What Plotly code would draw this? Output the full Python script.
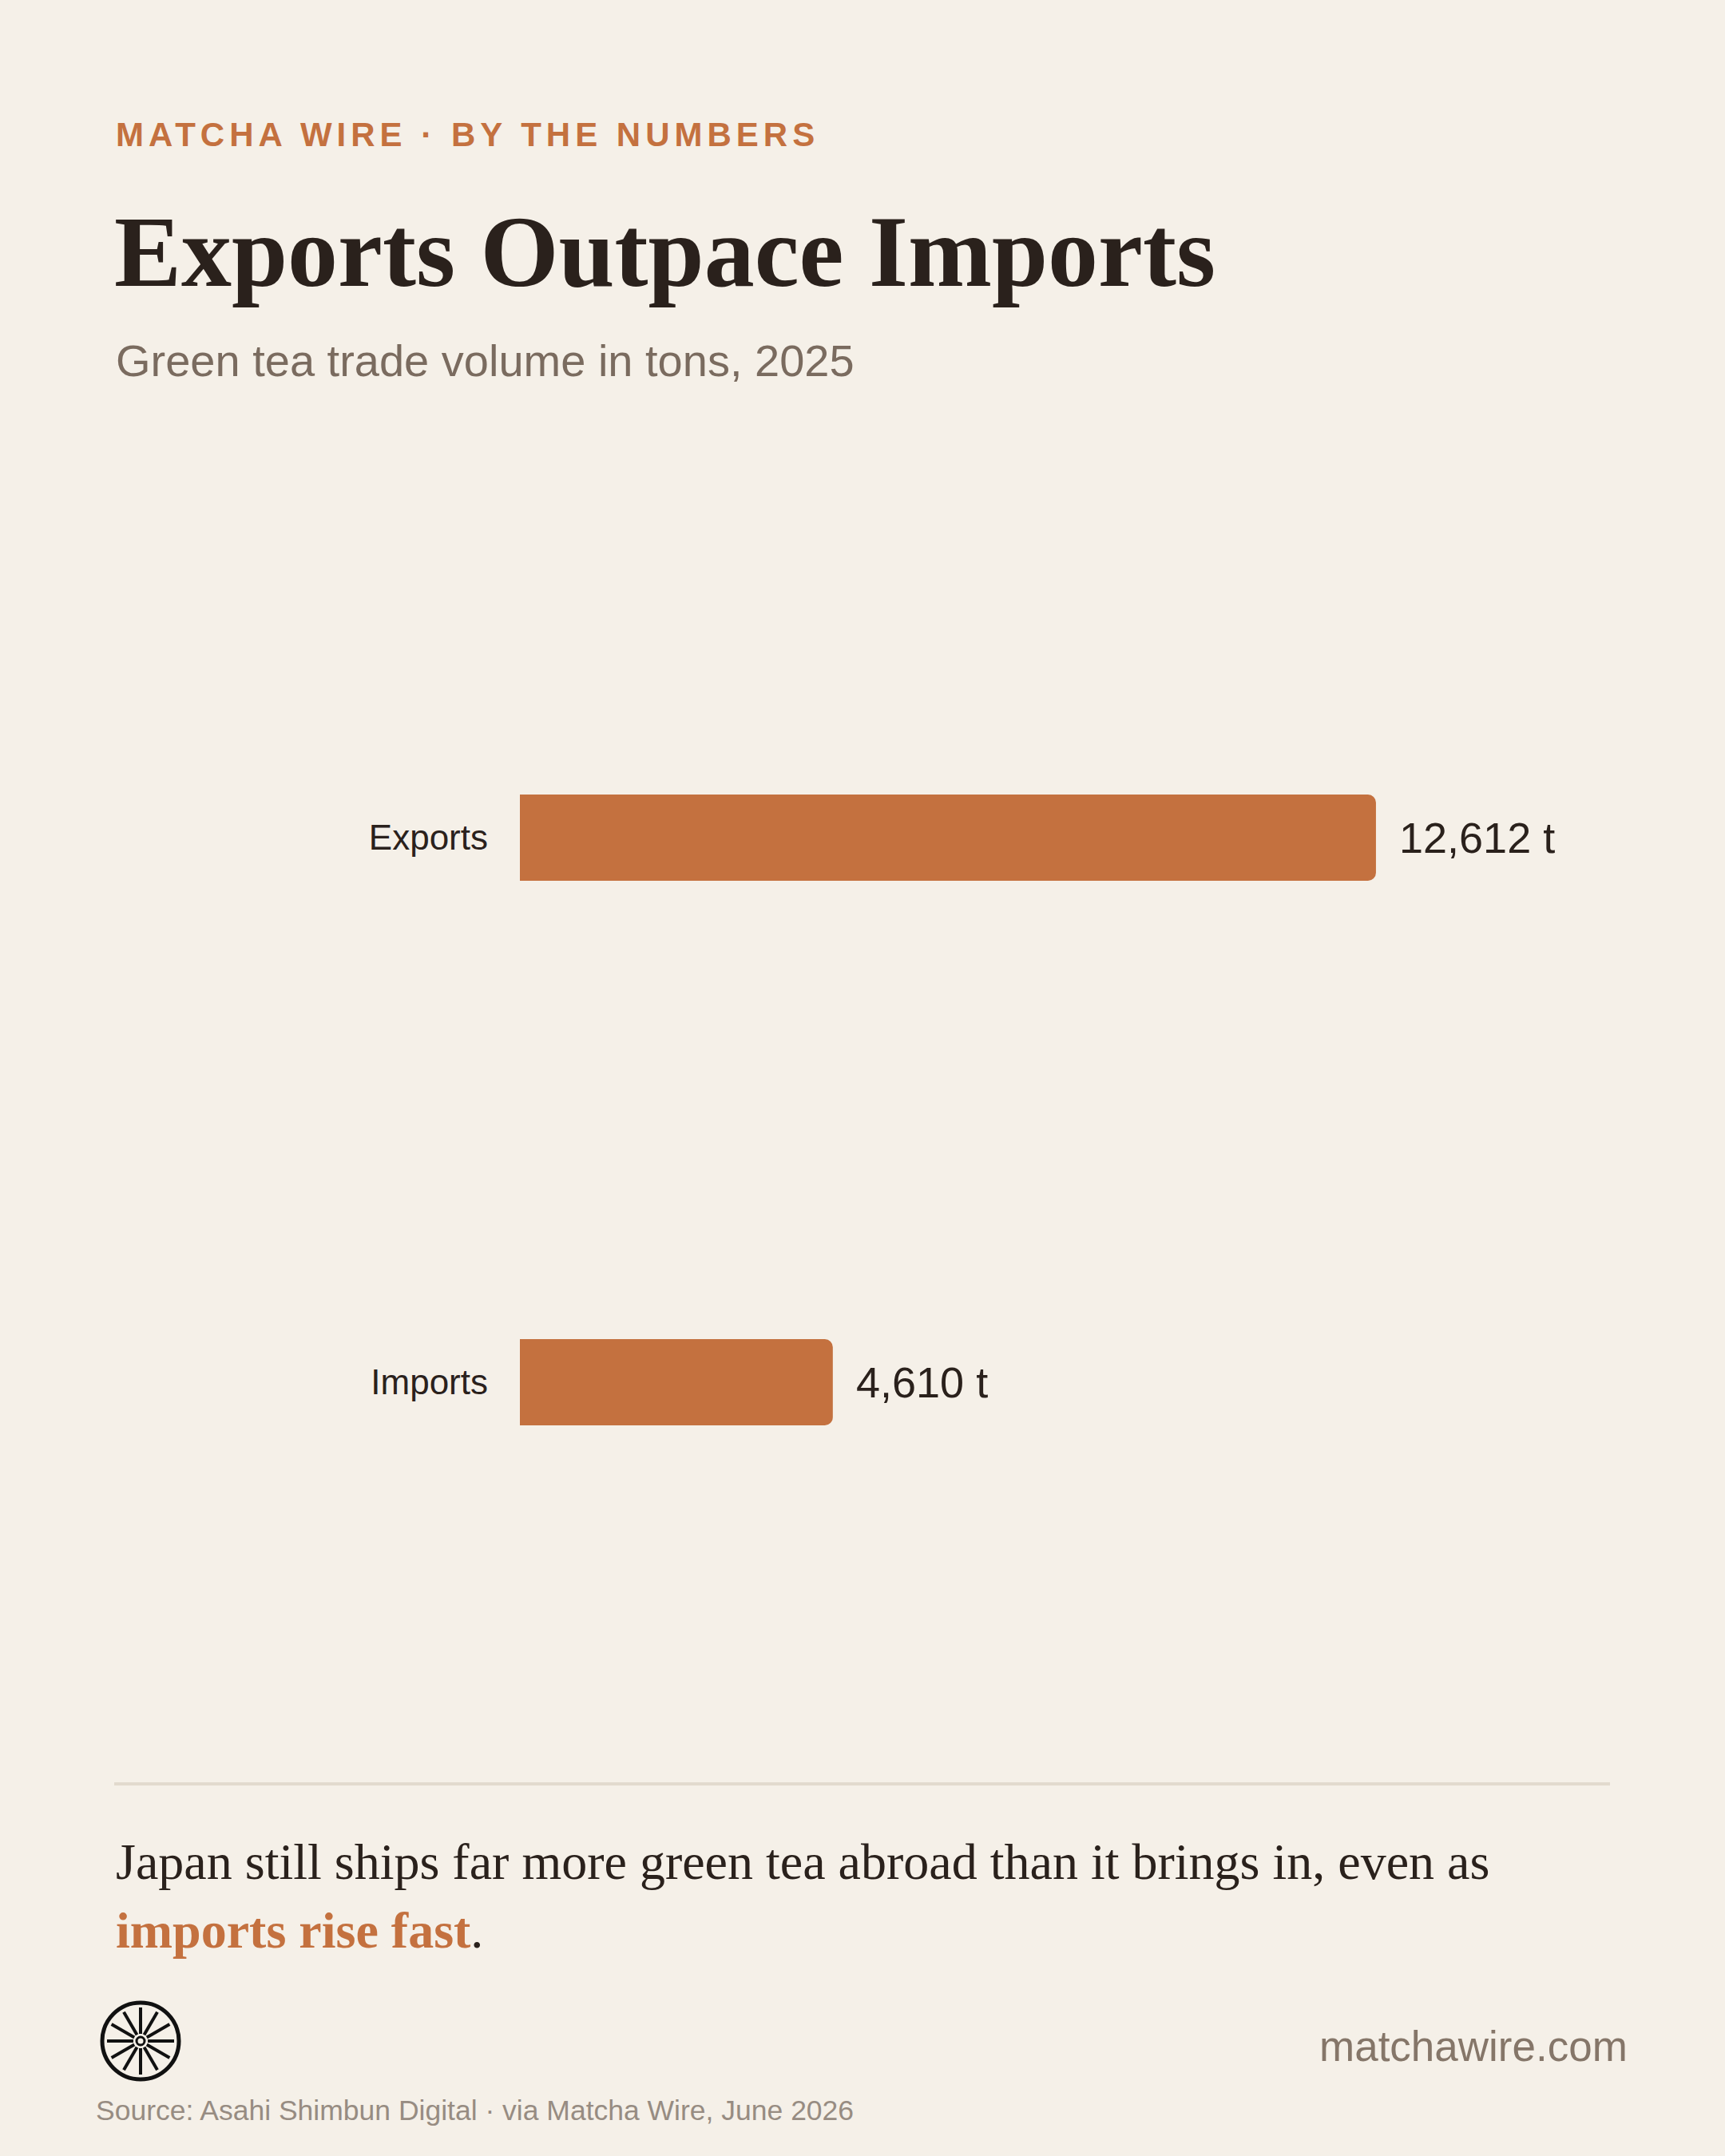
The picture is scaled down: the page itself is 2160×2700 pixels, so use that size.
import math
import plotly.graph_objects as go

# ---- data ----
categories = ["Exports", "Imports"]
volumes_t = [12612, 4610]
unit = "t"

kicker = "MATCHA WIRE · BY THE NUMBERS"
title = "Exports Outpace Imports"
subtitle = "Green tea trade volume in tons, 2025"
caption_line1 = "Japan still ships far more green tea abroad than it brings in, even as"
caption_highlight = "imports rise fast"
site = "matchawire.com"
source = "Source: Asahi Shimbun Digital · via Matcha Wire, June 2026"

# ---- style ----
W, H = 2160, 2700
BG = "#F5F0E8"
ACCENT = "#C4713F"
DARK = "#2A211C"
MUTED = "#7A6B5F"
LIGHT = "#978C82"
RULE = "#E2DACE"
SANS = "Liberation Sans, Arial, sans-serif"
SERIF = "Liberation Serif, Times New Roman, serif"

L, R, T, B = 651, 144, 708, 628
PW, PH = W - L - R, H - T - B
XMAX = 16060


def px(x):
    return (x - L) / PW


def py(y):
    return (H - B - y) / PH


fig = go.Figure(
    go.Bar(
        x=volumes_t,
        y=categories,
        orientation="h",
        width=0.158,
        marker=dict(color=ACCENT, cornerradius=10, line=dict(width=0)),
        hoverinfo="skip",
    )
)

fig.update_layout(
    width=W,
    height=H,
    margin=dict(l=L, r=R, t=T, b=B, pad=0),
    paper_bgcolor=BG,
    plot_bgcolor=BG,
    showlegend=False,
    xaxis=dict(visible=False, range=[0, XMAX]),
    yaxis=dict(
        type="category",
        categoryorder="array",
        categoryarray=categories,
        range=[1.5, -0.5],
        showgrid=False,
        zeroline=False,
        showline=False,
        ticks="",
        ticklabelstandoff=39,
        tickfont=dict(family=SANS, size=44, color=DARK),
    ),
)

ann = []
for c, v in zip(categories, volumes_t):
    ann.append(dict(
        x=v, y=c, xref="x", yref="y", xanchor="left", yanchor="middle",
        xshift=27, showarrow=False, text=f"{v:,} {unit}",
        font=dict(family=SANS, size=54, color=DARK),
    ))


def text_ann(text, x, y, font, xanchor="left"):
    ann.append(dict(
        x=px(x), y=py(y), xref="paper", yref="paper", xanchor=xanchor,
        yanchor="middle", showarrow=False, text=text, font=font, align="left",
    ))


text_ann(f'<span style="letter-spacing:6px"><b>{kicker}</b></span>', 143, 169,
         dict(family=SANS, size=42, color=ACCENT))
text_ann(f"<b>{title}</b>", 141, 315, dict(family=SERIF, size=126, color=DARK))
text_ann(subtitle, 143, 452, dict(family=SANS, size=56, color=MUTED))
text_ann(caption_line1, 143, 2331, dict(family=SERIF, size=64, color=DARK))
text_ann(f'<b><span style="color:{ACCENT}">{caption_highlight}</span></b>.', 143, 2417,
         dict(family=SERIF, size=64, color=DARK))
text_ann(site, 2040, 2562, dict(family=SANS, size=53, color="#857669"), xanchor="right")
text_ann(source, 118, 2643, dict(family=SANS, size=35.5, color=LIGHT))

shapes = [
    dict(type="line", xref="paper", yref="paper", x0=px(143), x1=px(2016),
         y0=py(2234), y1=py(2234), line=dict(color=RULE, width=4)),
]

# logo: wheel
cx, cy, rr = 176, 2556, 48
shapes.append(dict(type="circle", xref="paper", yref="paper",
                   x0=px(cx - rr), x1=px(cx + rr), y0=py(cy + rr), y1=py(cy - rr),
                   line=dict(color="#111111", width=5)))
ri = 5
shapes.append(dict(type="circle", xref="paper", yref="paper",
                   x0=px(cx - ri), x1=px(cx + ri), y0=py(cy + ri), y1=py(cy - ri),
                   line=dict(color="#111111", width=3)))
for k in range(12):
    a = math.radians(k * 30)
    r0, r1 = 9, 42
    shapes.append(dict(type="line", xref="paper", yref="paper",
                       x0=px(cx + r0 * math.cos(a)), y0=py(cy + r0 * math.sin(a)),
                       x1=px(cx + r1 * math.cos(a)), y1=py(cy + r1 * math.sin(a)),
                       line=dict(color="#111111", width=4)))

fig.update_layout(annotations=ann, shapes=shapes)
fig.write_html("out.html")
